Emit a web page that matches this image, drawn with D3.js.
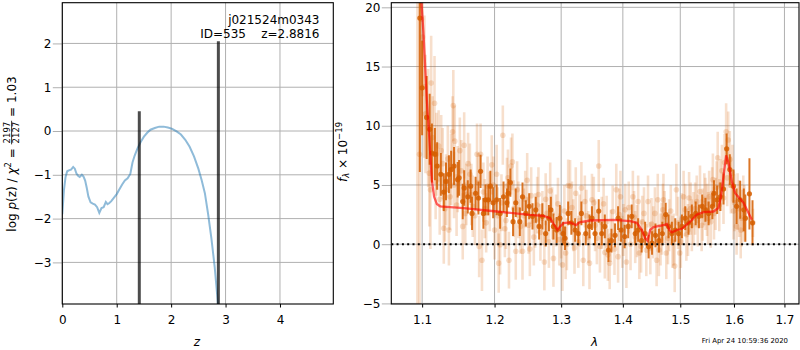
<!DOCTYPE html>
<html>
<head>
<meta charset="utf-8">
<script src="https://cdn.jsdelivr.net/npm/d3@7"></script>
<style>
  body { margin: 0; background: #fff; }
  svg { font-family: "DejaVu Sans", sans-serif; }
</style>
</head>
<body>
<svg id="fig" width="800" height="350"></svg>
<script>
// ---------------- redshift probability ----------------
const pzZ = [0, 0.03, 0.06, 0.09, 0.12, 0.16, 0.2, 0.23, 0.26, 0.29, 0.32, 0.36, 0.39, 0.42, 0.45,
  0.48, 0.52, 0.56, 0.6, 0.64, 0.68, 0.72, 0.76, 0.8, 0.83, 0.86, 0.9, 0.95, 1.0, 1.05, 1.1, 1.15,
  1.2, 1.25, 1.29, 1.33, 1.38, 1.44, 1.5, 1.56, 1.62, 1.7, 1.78, 1.86, 1.94, 2.02, 2.1, 2.18, 2.26,
  2.34, 2.42, 2.5, 2.56, 2.62, 2.68, 2.74, 2.8, 2.85, 2.88];
const pzLogP = [-1.9, -1.35, -1.05, -0.92, -0.9, -0.88, -0.82, -0.86, -0.97, -1.02, -1.05, -1.0, -1.04,
  -1.13, -1.3, -1.5, -1.63, -1.66, -1.68, -1.74, -1.87, -1.76, -1.74, -1.62, -1.67, -1.65, -1.6, -1.52,
  -1.44, -1.33, -1.22, -1.13, -1.08, -0.98, -0.72, -0.56, -0.40, -0.25, -0.13, -0.04, 0.03, 0.07, 0.1,
  0.1, 0.08, 0.05, -0.01, -0.08, -0.2, -0.36, -0.58, -0.86, -1.12, -1.42, -1.9, -2.45, -3.1, -3.8, -4.3];
const peakZ = [1.415, 2.868];
const peakLogP = [0.45, 2.05];
const zTicks = [0, 1, 2, 3, 4];
const logPTicks = [-3, -2, -1, 0, 1, 2];

// ---------------- spectrum ----------------
// [wavelength (micron), flux, error], first extraction
const beamPointsA = [
  [1.0938, 20.6, 26], [1.0965, 7.6, 14], [1.0990, 19.0, 6], [1.1030, 13.3, 6], [1.1080, 9.8, 5],
  [1.1110, 4.6, 5], [1.1120, 13.6, 4], [1.1165, 11.9, 4], [1.1190, 7.6, 3.5], [1.1220, 8.3, 3],
  [1.1255, 7.9, 3], [1.1290, 1.35, 3], [1.1320, 4.6, 3], [1.1360, 1.2, 3], [1.1390, 6.3, 3],
  [1.1410, 9.5, 3], [1.1420, 11.7, 3], [1.1440, 8.7, 3], [1.1480, 5.5, 2.8], [1.1510, 7.9, 2.8],
  [1.1550, 1.5, 2.8], [1.1570, 8.35, 2.8], [1.1600, 4.2, 2.6], [1.1650, 5.9, 2.6], [1.1690, 3.2, 2.6],
  [1.1750, 7.6, 2.6], [1.1780, -0.2, 2.6], [1.1800, 7.6, 2.6], [1.1820, -1.35, 2.6], [1.1860, 3.0, 2.5],
  [1.1900, 4.9, 2.5], [1.1960, 6.7, 2.5], [1.2000, 1.2, 2.5], [1.2030, 5.9, 2.5], [1.2060, -1.6, 2.5],
  [1.2080, -0.05, 2.5], [1.2120, 9.2, 2.5], [1.2150, 1.3, 2.4], [1.2180, 4.9, 2.4], [1.2210, -1.35, 2.4],
  [1.2240, 6.6, 2.4], [1.2260, 6.95, 2.4], [1.2310, -0.6, 2.4], [1.2350, 2.9, 2.4], [1.2410, -0.6, 2.4],
  [1.2450, 3.8, 2.4], [1.2500, 1.6, 2.4], [1.2540, 4.1, 2.4], [1.2580, 0.6, 2.4], [1.2630, 3.3, 2.4],
  [1.2680, 1.0, 2.4], [1.2740, -1.5, 2.4], [1.2780, 2.6, 2.4], [1.2830, 4.5, 2.4], [1.2880, -1.2, 2.4],
  [1.2920, 2.0, 2.2], [1.2970, 0.4, 2.2], [1.3020, -1.75, 2.2], [1.3070, -0.75, 2.2], [1.3110, 4.95, 2.2],
  [1.3140, 4.9, 2.2], [1.3190, 1.6, 2.2], [1.3230, 4.3, 2.2], [1.3270, 0.2, 2.2], [1.3320, 4.75, 2.2],
  [1.3350, -1.35, 2.2], [1.3400, 2.4, 2.2], [1.3450, -1.6, 2.2], [1.3490, 3.75, 2.2], [1.3520, 3.5, 2.2],
  [1.3570, 0.5, 2.2], [1.3600, 6.6, 2.2], [1.3650, 1.8, 2.2], [1.3700, -0.7, 2.2], [1.3750, -0.9, 2.2],
  [1.3780, -1.6, 2.2], [1.3830, 2.76, 2.2], [1.3890, 4.6, 2.2], [1.3920, -1.05, 2.2], [1.3960, 4.0, 2.2],
  [1.4010, 1.2, 2.2], [1.4060, -1.5, 2.2], [1.4100, 3.1, 2.2], [1.4170, 4.0, 2.2], [1.4210, 0.6, 2.2],
  [1.4260, 3.6, 2.2], [1.4280, -0.75, 2.2], [1.4330, 1.9, 2.2], [1.4400, -0.5, 2.2], [1.4430, 3.6, 2.2],
  [1.4470, -0.35, 2.2], [1.4520, 1.0, 2.2], [1.4580, -1.35, 2.2], [1.4600, 3.75, 2.2], [1.4650, 0.4, 2.2],
  [1.4690, 2.9, 2.2], [1.4700, 3.75, 2.2], [1.4750, -0.75, 2.2], [1.4800, 1.6, 2.2], [1.4860, 0.2, 2.2],
  [1.4900, -1.85, 2.2], [1.4930, 4.6, 2.2], [1.4990, -0.75, 2.2], [1.5030, 2.1, 2.2], [1.5060, 4.0, 2.2],
  [1.5110, 0.8, 2.2], [1.5160, 3.9, 2.2], [1.5210, 1.6, 2.2], [1.5270, 3.0, 2.2], [1.5320, 2.0, 2.2],
  [1.5360, 4.45, 2.2], [1.5410, 2.5, 2.2], [1.5460, 3.4, 2.2], [1.5510, 2.2, 2.2], [1.5560, 1.9, 2.2],
  [1.5585, 4.3, 2.2], [1.5600, 5.45, 2.2], [1.5650, 3.4, 2.2], [1.5690, 7.3, 2.2], [1.5740, 5.0, 2.2],
  [1.5800, 3.9, 2.2], [1.5850, 9.5, 2.4], [1.5890, 8.8, 2.4], [1.5920, 7.15, 2.4], [1.5970, 6.0, 2.4],
  [1.6010, 3.5, 2.4], [1.6050, 1.5, 2.4], [1.6100, 3.0, 2.4], [1.6150, 2.2, 2.4], [1.6200, 2.6, 2.4],
  [1.6370, 1.8, 1.2]
];
// [wavelength (micron), flux, error], second extraction
const beamPointsB = [
  [1.1005, 17.5, 5], [1.1045, 11.0, 5], [1.1095, 6.0, 4.5], [1.1140, 9.0, 3.5], [1.1180, 5.3, 3.2],
  [1.1235, 3.8, 3], [1.1275, 6.8, 3], [1.1305, 3.0, 2.8], [1.1345, 7.2, 2.8], [1.1375, 4.0, 2.8],
  [1.1430, 5.0, 2.8], [1.1465, 3.3, 2.6], [1.1530, 6.2, 2.6], [1.1585, 2.6, 2.6], [1.1625, 6.8, 2.6],
  [1.1670, 4.2, 2.6], [1.1720, 2.4, 2.5], [1.1765, 5.2, 2.5], [1.1840, 4.4, 2.5], [1.1880, 1.8, 2.5],
  [1.1930, 3.6, 2.5], [1.1985, 5.0, 2.4], [1.2045, 2.4, 2.4], [1.2100, 3.5, 2.4], [1.2165, 2.0, 2.4],
  [1.2195, 5.6, 2.4], [1.2280, 3.0, 2.4], [1.2330, 4.6, 2.4], [1.2380, 1.5, 2.3], [1.2430, 2.4, 2.3],
  [1.2480, 5.4, 2.3], [1.2520, -0.4, 2.3], [1.2600, 2.0, 2.3], [1.2650, 4.2, 2.3], [1.2710, 2.2, 2.3],
  [1.2760, 3.8, 2.2], [1.2810, 0.2, 2.2], [1.2860, 2.6, 2.2], [1.2950, 3.4, 2.2], [1.3000, 1.0, 2.2],
  [1.3050, 2.8, 2.2], [1.3090, 0.0, 2.2], [1.3170, 3.1, 2.2], [1.3210, -0.3, 2.2], [1.3290, 2.0, 2.2],
  [1.3375, 3.6, 2.2], [1.3430, 0.6, 2.2], [1.3540, 1.6, 2.2], [1.3620, -0.2, 2.2], [1.3680, 3.4, 2.2],
  [1.3730, 1.9, 2.2], [1.3800, 0.7, 2.2], [1.3860, -0.4, 2.2], [1.3940, 2.5, 2.2], [1.3990, 0.2, 2.2],
  [1.4040, 2.9, 2.2], [1.4130, 0.0, 2.2], [1.4190, 2.3, 2.2], [1.4240, 1.1, 2.2], [1.4310, -0.2, 2.2],
  [1.4360, 2.6, 2.2], [1.4490, 1.7, 2.2], [1.4550, 2.6, 2.2], [1.4620, -0.5, 2.2], [1.4670, 1.3, 2.2],
  [1.4720, 2.3, 2.2], [1.4780, 0.5, 2.2], [1.4830, 2.8, 2.2], [1.4880, 0.4, 2.2], [1.4960, 1.8, 2.2],
  [1.5010, 0.2, 2.2], [1.5090, 2.9, 2.2], [1.5140, 1.2, 2.2], [1.5190, 3.0, 2.2], [1.5240, 2.2, 2.2],
  [1.5300, 3.6, 2.2], [1.5390, 1.6, 2.2], [1.5440, 3.8, 2.2], [1.5490, 2.9, 2.2], [1.5530, 4.0, 2.2],
  [1.5620, 2.6, 2.2], [1.5670, 4.8, 2.2], [1.5720, 3.3, 2.2], [1.5770, 6.2, 2.2], [1.5820, 6.9, 2.4],
  [1.5870, 5.6, 2.4], [1.5940, 5.0, 2.4], [1.5990, 2.8, 2.4], [1.6070, 3.6, 2.4], [1.6130, 1.2, 2.4],
  [1.6180, 3.4, 2.4]
];
// [wavelength (micron), flux, error] of the combined spectrum
const combinedPoints = [
  [1.097, 19.1, 13], [1.100, 13.2, 4], [1.106, 10.7, 3.5], [1.110, 9.7, 3], [1.113, 7.7, 2.5],
  [1.117, 7.6, 2.2], [1.120, 6.6, 2], [1.125, 5.9, 1.8], [1.129, 4.4, 1.6], [1.132, 5.3, 1.6],
  [1.136, 5.9, 1.6], [1.139, 6.3, 1.6], [1.143, 6.6, 1.6], [1.148, 5.45, 1.5], [1.150, 5.6, 1.5],
  [1.155, 3.6, 1.5], [1.157, 4.75, 1.5], [1.162, 4.0, 1.4], [1.166, 4.9, 1.4], [1.168, 2.6, 1.4],
  [1.173, 4.3, 1.4], [1.177, 3.9, 1.4], [1.180, 6.15, 1.4], [1.184, 2.6, 1.3], [1.187, 3.75, 1.3],
  [1.191, 3.75, 1.3], [1.194, 4.9, 1.3], [1.198, 3.5, 1.3], [1.203, 3.75, 1.3], [1.208, 2.6, 1.3],
  [1.213, 4.0, 1.3], [1.218, 3.5, 1.2], [1.220, 4.3, 1.2], [1.223, 5.2, 1.2], [1.227, 1.9, 1.2],
  [1.231, 3.5, 1.2], [1.237, 1.9, 1.2], [1.241, 4.0, 1.2], [1.246, 2.6, 1.1], [1.251, 3.2, 1.1],
  [1.256, 2.35, 1.1], [1.261, 2.9, 1.1], [1.266, 1.5, 1.1], [1.271, 2.35, 1.1], [1.276, 0.9, 1.1],
  [1.281, 2.2, 1.1], [1.284, 2.9, 1.1], [1.288, 1.5, 1.1], [1.293, 1.2, 1.1], [1.298, 2.2, 1.1],
  [1.303, 0.9, 1.0], [1.306, 0.5, 1.0], [1.311, 2.6, 1.0], [1.316, 1.8, 1.0], [1.322, 1.2, 1.0],
  [1.327, 0.9, 1.0], [1.332, 2.6, 1.0], [1.339, 0.9, 1.0], [1.345, 1.5, 1.0], [1.349, 2.2, 1.0],
  [1.354, 0.9, 1.0], [1.360, 2.8, 1.0], [1.365, 0.9, 1.0], [1.370, 1.5, 1.0], [1.376, -0.5, 1.0],
  [1.381, 0.3, 1.0], [1.387, 0.75, 1.0], [1.392, 2.2, 1.0], [1.397, 1.2, 1.0], [1.403, 0.65, 1.0],
  [1.409, 1.5, 1.0], [1.415, 2.35, 1.0], [1.421, 0.9, 1.0], [1.426, 1.2, 1.0], [1.432, 0.3, 1.0],
  [1.438, 0.9, 1.0], [1.444, -0.2, 1.0], [1.450, 0.1, 1.0], [1.456, 0.75, 1.0], [1.462, 0.3, 1.0],
  [1.468, 0.9, 1.0], [1.474, 2.5, 1.0], [1.479, 1.5, 1.0], [1.485, 0.9, 1.0], [1.491, 1.2, 1.0],
  [1.497, 0.9, 1.0], [1.503, 1.5, 1.0], [1.509, 2.2, 1.0], [1.515, 1.8, 1.0], [1.521, 2.35, 1.0],
  [1.528, 2.6, 1.0], [1.534, 2.35, 1.0], [1.540, 3.2, 1.0], [1.546, 2.9, 1.0], [1.552, 2.6, 1.0],
  [1.559, 3.2, 1.1], [1.562, 4.3, 1.1], [1.568, 3.75, 1.2], [1.574, 4.0, 1.2], [1.580, 4.66, 1.3],
  [1.586, 8.05, 1.3], [1.592, 6.3, 1.3], [1.599, 4.9, 1.4], [1.605, 3.2, 1.5], [1.612, 3.75, 1.6],
  [1.619, 2.9, 1.8], [1.622, 2.2, 2.0], [1.630, 4.25, 3.0], [1.636, 1.8, 1.9]
];
// best-fit template
const modelWave = [1.0975, 1.1017, 1.1062, 1.1097, 1.1129, 1.1160, 1.1196, 1.1241, 1.1560, 1.2033,
  1.2524, 1.2726, 1.2829, 1.2891, 1.2942, 1.2984, 1.3036, 1.3141, 1.3236, 1.3289, 1.3460, 1.3843,
  1.4124, 1.4238, 1.4324, 1.4381, 1.4421, 1.4467, 1.4525, 1.4700, 1.4760, 1.4806, 1.4849, 1.4939,
  1.5029, 1.5180, 1.5302, 1.5424, 1.5610, 1.5704, 1.5750, 1.5799, 1.5850, 1.5894, 1.5959, 1.6023,
  1.6183, 1.6348];
const modelFlux = [22, 17.9, 12.2, 8.8, 5.4, 4.0, 3.4, 3.2, 3.05, 2.76,
  2.48, 2.4, 2.2, 1.64, 1.2, 1.5, 1.78, 1.84, 1.6, 1.84, 2.0, 2.05,
  1.95, 1.8, 1.2, 0.5, 0.3, 1.2, 1.45, 1.6, 1.7, 1.2, 1.0, 1.2,
  1.3, 1.9, 2.5, 2.7, 2.76, 3.05, 4.0, 5.7, 7.5, 6.9, 5.3, 4.3,
  3.5, 2.06];
const waveTicks = [1.1, 1.2, 1.3, 1.4, 1.5, 1.6, 1.7];
const fluxTicks = [-5, 0, 5, 10, 15, 20];

// ---------------- layout ----------------
const svg = d3.select("#fig");
const FS = 12;
const GRID = "#b0b0b0";
const ORANGE = "#D55E00";
const minus = d => (d < 0 ? "\u2212" + Math.abs(d) : String(d));

const L = { x0: 62.3, x1: 333.3, y0: 2.7, y1: 304 };
const R = { x0: 391.3, x1: 799, y0: 2.7, y1: 304 };

const xZ = d3.scaleLinear().domain([0, 4.98]).range([L.x0, L.x1]);
const yP = d3.scaleLinear().domain([-3.95, 2.93]).range([L.y1, L.y0]);
const xW = d3.scaleLog().domain([1.06, 1.73]).range([R.x0, R.x1]);
const yF = d3.scaleLinear().domain([-5.05, 20.39]).range([R.y1, R.y0]);

const defs = svg.append("defs");
[["clipL", L], ["clipR", R]].forEach(([id, b]) => {
  defs.append("clipPath").attr("id", id).append("rect")
    .attr("x", b.x0).attr("y", b.y0).attr("width", b.x1 - b.x0).attr("height", b.y1 - b.y0);
});

function grid(b, xs, xt, ys, yt) {
  const g = svg.append("g").attr("stroke", GRID).attr("stroke-width", 1);
  xt.forEach(t => g.append("line").attr("x1", xs(t)).attr("x2", xs(t)).attr("y1", b.y0).attr("y2", b.y1));
  yt.forEach(t => g.append("line").attr("y1", ys(t)).attr("y2", ys(t)).attr("x1", b.x0).attr("x2", b.x1));
}

function axes(b, xs, xt, xfmt, ys, yt) {
  const gx = svg.append("g").attr("transform", `translate(0,${b.y1})`)
    .call(d3.axisBottom(xs).tickValues(xt).tickFormat(xfmt).tickSize(3.5).tickPadding(8.3));
  gx.select(".domain").remove();
  gx.selectAll("line").attr("stroke", "#000").attr("stroke-width", 1);
  gx.selectAll("text").attr("font-size", FS).attr("font-family", "DejaVu Sans").attr("fill", "#000");

  const gy = svg.append("g").attr("transform", `translate(${b.x0},0)`)
    .call(d3.axisLeft(ys).tickValues(yt).tickFormat(minus).tickSize(9.5).tickPadding(1.4));
  gy.select(".domain").remove();
  gy.selectAll("line").attr("stroke", GRID).attr("stroke-width", 1);
  gy.selectAll("text").attr("font-size", FS).attr("font-family", "DejaVu Sans").attr("fill", "#000");

  svg.append("rect").attr("x", b.x0).attr("y", b.y0)
    .attr("width", b.x1 - b.x0).attr("height", b.y1 - b.y0)
    .attr("fill", "none").attr("stroke", "#000").attr("stroke-width", 1.1);
}

// ---------------- left panel: p(z) ----------------
grid(L, xZ, zTicks, yP, logPTicks);
const gl = svg.append("g").attr("clip-path", "url(#clipL)");
gl.append("path")
  .datum(pzZ.map((z, i) => [z, pzLogP[i]]))
  .attr("d", d3.line().x(d => xZ(d[0])).y(d => yP(d[1])))
  .attr("fill", "none").attr("stroke", "#1f77b4").attr("stroke-opacity", 0.5).attr("stroke-width", 2);
gl.selectAll("line.peak").data(peakZ).join("line").attr("class", "peak")
  .attr("x1", d => xZ(d)).attr("x2", d => xZ(d))
  .attr("y1", yP(-10)).attr("y2", (d, i) => yP(peakLogP[i]))
  .attr("stroke", "#000").attr("stroke-opacity", 0.7).attr("stroke-width", 3);
axes(L, xZ, zTicks, d3.format("d"), yP, logPTicks);

svg.append("text").attr("x", 319.5).attr("y", 24).attr("text-anchor", "end")
  .attr("font-size", FS).text("j021524m0343");
svg.append("text").attr("x", 319.5).attr("y", 38.3).attr("text-anchor", "end")
  .attr("font-size", FS).attr("xml:space", "preserve").style("white-space", "pre")
  .text("ID=535    z=2.8816");

// ---------------- right panel: spectrum ----------------
grid(R, xW, waveTicks, yF, fluxTicks);
const gr = svg.append("g").attr("clip-path", "url(#clipR)");

function errorbars(g, pts, alpha, lw, r) {
  const s = g.append("g");
  s.selectAll("line").data(pts).join("line")
    .attr("x1", d => xW(d[0])).attr("x2", d => xW(d[0]))
    .attr("y1", d => yF(d[1] - d[2])).attr("y2", d => yF(d[1] + d[2]))
    .attr("stroke", ORANGE).attr("stroke-opacity", alpha).attr("stroke-width", lw);
  s.selectAll("circle").data(pts).join("circle")
    .attr("cx", d => xW(d[0])).attr("cy", d => yF(d[1])).attr("r", r)
    .attr("fill", ORANGE).attr("fill-opacity", alpha);
}
errorbars(gr, beamPointsA, 0.2, 2.6, 2.8);
errorbars(gr, beamPointsB, 0.2, 2.6, 2.8);
errorbars(gr, combinedPoints, 0.85, 2.0, 2.6);

gr.append("path")
  .datum(modelWave.map((w, i) => [w, modelFlux[i]]))
  .attr("d", d3.line().x(d => xW(d[0])).y(d => yF(d[1])))
  .attr("fill", "none").attr("stroke", "red").attr("stroke-opacity", 0.62).attr("stroke-width", 2.3);

gr.append("line").attr("x1", R.x0).attr("x2", R.x1).attr("y1", yF(0)).attr("y2", yF(0))
  .attr("stroke", "#000").attr("stroke-width", 2).attr("stroke-dasharray", "2,3.3");

axes(R, xW, waveTicks, d3.format(".1f"), yF, fluxTicks);

// ---------------- axis labels ----------------
svg.append("text").attr("x", 197).attr("y", 345.5).attr("text-anchor", "middle")
  .attr("font-size", FS).attr("font-style", "italic").text("z");
svg.append("text").attr("x", 594.5).attr("y", 346).attr("text-anchor", "middle")
  .attr("font-size", FS).attr("font-style", "italic").text("\u03bb");

// left y label: log p(z) / chi^2 = 2197/2127 = 1.03
{
  const g = svg.append("g").attr("transform", "translate(15.5,154) rotate(-90)");
  const a = g.append("text").attr("font-size", FS);
  a.append("tspan").text("log ");
  a.append("tspan").attr("font-style", "italic").text("p");
  a.append("tspan").text("(z) / ");
  a.append("tspan").attr("font-style", "italic").text("\u03c7");
  a.append("tspan").attr("font-size", 8.5).attr("dy", -4.5).text("2");
  a.append("tspan").attr("dy", 4.5).attr("xml:space", "preserve").style("white-space", "pre").text(" = ");
  const wa = a.node().getComputedTextLength();
  const fs = 8.5;
  const num = g.append("text").attr("font-size", fs).attr("text-anchor", "middle").text("2197");
  const den = g.append("text").attr("font-size", fs).attr("text-anchor", "middle").text("2127");
  const wf = Math.max(num.node().getComputedTextLength(), den.node().getComputedTextLength()) + 2;
  const b = g.append("text").attr("font-size", FS).attr("xml:space", "preserve")
    .style("white-space", "pre").text(" = 1.03");
  const wb = b.node().getComputedTextLength();
  const x0 = -(wa + wf + wb) / 2;
  a.attr("x", x0);
  num.attr("x", x0 + wa + wf / 2).attr("y", -5.6);
  den.attr("x", x0 + wa + wf / 2).attr("y", 3.6);
  g.append("line").attr("x1", x0 + wa).attr("x2", x0 + wa + wf)
    .attr("y1", -3.9).attr("y2", -3.9).attr("stroke", "#000").attr("stroke-width", 0.8);
  b.attr("x", x0 + wa + wf);
}

// right y label: f_lambda x 10^-19
{
  const g = svg.append("g").attr("transform", "translate(346.5,152) rotate(-90)");
  const t = g.append("text").attr("font-size", FS).attr("text-anchor", "middle");
  t.append("tspan").attr("font-style", "italic").text("f");
  t.append("tspan").attr("font-size", 8.5).attr("font-style", "italic").attr("dy", 2.5).text("\u03bb");
  t.append("tspan").attr("dy", -2.5).attr("xml:space", "preserve").style("white-space", "pre").text(" \u00d7 10");
  t.append("tspan").attr("font-size", 8.5).attr("dy", -5).text("\u221219");
}

// timestamp
svg.append("text").attr("x", 788).attr("y", 343.3).attr("text-anchor", "end")
  .attr("font-size", 6.9).text("Fri Apr 24 10:59:36 2020");
</script>
</body>
</html>
